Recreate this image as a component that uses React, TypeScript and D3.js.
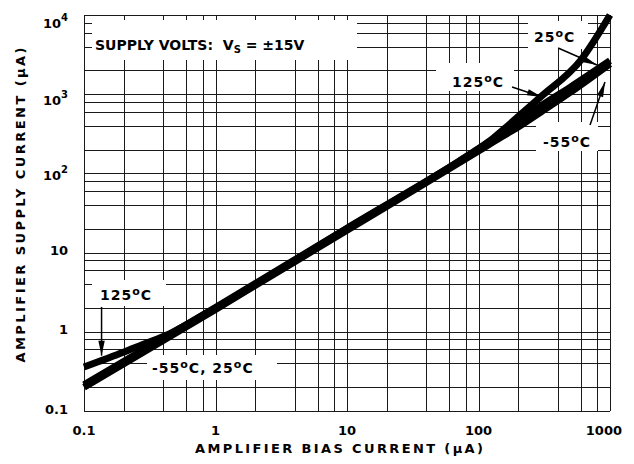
import React from 'react';
import * as d3 from 'd3';

// chart size and plot box
const W = 634, H = 464;
const margin = { top: 15, right: 24, bottom: 53, left: 84 };

// axis ticks
const xTicks = [0.1, 1, 10, 100, 1000];
const xTickLabels = ['0.1', '1', '10', '100', '1000'];
const yTicks = [0.1, 1, 10, 100, 1000, 10000];
const yTickBase = ['0.1', '1', '10', '10', '10', '10'];
const yTickExp = ['', '', '', '2', '3', '4'];
const gridSteps = [1, 2, 4, 6, 8];

// 125°C curve (upper at both ends)
const hotBias = [0.1, 0.15, 0.22, 0.3, 0.45, 1, 10, 70, 100, 130, 160, 200, 300, 600, 1000];
const hotSupply = [0.36, 0.46, 0.59, 0.72, 0.95, 2, 20, 140, 205, 280, 375, 520, 940, 2700, 10000];

// 25°C curve
const roomBias = [0.1, 1, 10, 100, 150, 200, 300, 500, 1000];
const roomSupply = [0.215, 2.03, 20.3, 203, 318, 445, 715, 1230, 2650];

// -55°C curve
const coldBias = [0.1, 1, 10, 100, 150, 200, 300, 500, 1000];
const coldSupply = [0.2, 1.92, 19.2, 192, 290, 385, 600, 1060, 2420];

// arrows, in data units: [x1, y1, x2, y2]
const arrows = [
  [403, 3830, 796, 2340],
  [180, 1233, 304, 922],
  [705, 408, 916, 1426],
  [0.136, 2.06, 0.136, 0.5],
];

const font = '"DejaVu Sans", Verdana, sans-serif';

const Deg = ({ pre, post }: { pre: string; post?: string }) => (
  <>
    {pre}
    <tspan fontSize={11} dy={-5}>o</tspan>
    <tspan dy={5}>C{post || ''}</tspan>
  </>
);

export default function App() {
  const x = d3.scaleLog().domain([0.1, 1000]).range([margin.left, W - margin.right]);
  const y = d3.scaleLog().domain([0.1, 10000]).range([H - margin.bottom, margin.top]);

  const xGrid: number[] = [];
  [0.1, 1, 10, 100].forEach(d => gridSteps.forEach(s => xGrid.push(d * s)));
  xGrid.push(1000);
  const yGrid: number[] = [];
  [0.1, 1, 10, 100, 1000].forEach(d => gridSteps.forEach(s => yGrid.push(d * s)));
  yGrid.push(10000);

  const line = d3.line<[number, number]>()
    .x(d => x(d[0]))
    .y(d => y(d[1]))
    .curve(d3.curveMonotoneX);

  const series = [
    d3.zip(coldBias, coldSupply),
    d3.zip(roomBias, roomSupply),
    d3.zip(hotBias, hotSupply),
  ] as [number, number][][];

  const [x0, x1] = x.range();
  const [y0, y1] = y.range();

  const head = (a: number[]) => {
    const ax = x(a[0]), ay = y(a[1]), bx = x(a[2]), by = y(a[3]);
    const ang = Math.atan2(by - ay, bx - ax);
    const len = 15, hw = 3.2;
    const cx = bx - len * Math.cos(ang), cy = by - len * Math.sin(ang);
    const px = -Math.sin(ang) * hw, py = Math.cos(ang) * hw;
    return `${bx},${by} ${cx + px},${cy + py} ${cx - px},${cy - py}`;
  };

  // white patches behind the notes
  const boxes = [
    [92, 20, 265, 40],
    [528, 21, 60, 28],
    [436, 63, 78, 28],
    [536, 122, 62, 29],
    [92, 280, 74, 26],
    [147, 355, 130, 25],
  ];

  return (
    <svg width={W} height={H} style={{ position: 'absolute', left: 0, top: 0, background: '#fff' }}
         fontFamily={font} fontWeight="bold">
      <rect width={W} height={H} fill="#fff" />
      <g stroke="#1a1a1a" strokeWidth={1} shapeRendering="crispEdges">
        {xGrid.map((v, i) => (
          <line key={'x' + i} x1={Math.round(x(v)) + 0.5} x2={Math.round(x(v)) + 0.5} y1={y1} y2={y0} />
        ))}
        {yGrid.map((v, i) => (
          <line key={'y' + i} x1={x0} x2={x1} y1={Math.round(y(v)) + 0.5} y2={Math.round(y(v)) + 0.5} />
        ))}
      </g>
      {boxes.map((b, i) => (
        <rect key={'b' + i} x={b[0]} y={b[1]} width={b[2]} height={b[3]} fill="#fff" />
      ))}

      {series.map((s, i) => (
        <path key={'s' + i} d={line(s) || ''} fill="none" stroke="#000" strokeWidth={7} />
      ))}

      {arrows.map((a, i) => (
        <g key={'a' + i}>
          <line x1={x(a[0])} y1={y(a[1])} x2={x(a[2])} y2={y(a[3])} stroke="#000" strokeWidth={1.5} />
          <polygon points={head(a)} fill="#000" />
        </g>
      ))}

      <g fontSize={14} fill="#000">
        <text x={95} y={50}>
          SUPPLY VOLTS:{'\u00a0\u00a0'}V<tspan fontSize={10} dy={3}>S</tspan>
          <tspan dy={-3}>{' = \u00b115V'}</tspan>
        </text>
        <g letterSpacing={1}>
          <text x={534} y={42}><Deg pre="25" /></text>
          <text x={452} y={87}><Deg pre="125" /></text>
          <text x={543} y={147}><Deg pre="-55" /></text>
          <text x={100} y={300}><Deg pre="125" /></text>
          <text x={152} y={373}><Deg pre="-55" post=",  " /><Deg pre="25" /></text>
        </g>
      </g>

      <g fontSize={13} fill="#000">
        {xTicks.map((v, i) => (
          <text key={'xt' + i} x={i === xTicks.length - 1 ? x(v) + 12 : x(v)} y={435}
                textAnchor={i === xTicks.length - 1 ? 'end' : 'middle'}>{xTickLabels[i]}</text>
        ))}
        {yTicks.map((v, i) => {
          const exp = yTickExp[i];
          const off = exp ? (v >= 10000 ? 13 : v >= 1000 ? 11 : 6.5) : 2.5;
          return (
            <text key={'yt' + i} x={68} y={y(v) + off} textAnchor="end">
              {yTickBase[i]}
              {exp && <tspan fontSize={10} dy={-7}>{exp}</tspan>}
            </text>
          );
        })}
      </g>

      <text x={339} y={453} fontSize={13} textAnchor="middle" textLength={288} lengthAdjust="spacing">
        AMPLIFIER BIAS CURRENT (µA)
      </text>
      <text transform="translate(25,205) rotate(-90)" fontSize={13} textAnchor="middle"
            textLength={315} lengthAdjust="spacing">
        AMPLIFIER SUPPLY CURRENT (µA)
      </text>
    </svg>
  );
}
